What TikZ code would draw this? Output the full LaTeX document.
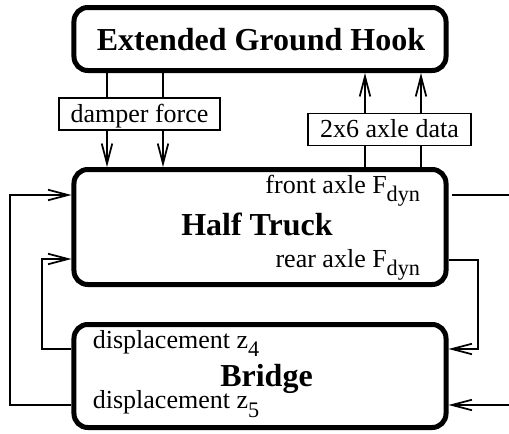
\documentclass[tikz,border=0pt]{standalone}
\usepackage{fontspec}
\setmainfont{Liberation Serif}
\usetikzlibrary{positioning}
\usetikzlibrary{arrows.meta}
\newcommand{\lowsub}[1]{\raisebox{-3.4pt}{\fontsize{8.9}{10}\selectfont #1}}

\begin{document}
\begin{tikzpicture}[x=0.4pt,y=-0.4pt,>={Straight Barb[length=8pt,width=4.2pt]},every node/.style={inner sep=0pt},on grid]
	
	\tikzstyle{block}=[rectangle,rounded corners=5.5pt,line width=2pt,draw=black,minimum width=148.8pt]
	\tikzstyle{title}=[font=\fontsize{12.8}{15}\selectfont\bfseries]
	\tikzstyle{plain}=[font=\fontsize{10.4}{12}\selectfont]
	\tikzstyle{tag}=[rectangle,draw=black,line width=0.7pt,fill=white,font=\fontsize{10.4}{12}\selectfont,text height=9.6pt,text depth=3.2pt]
	\tikzset{every path/.style={line width=0.7pt}}
	
		\useasboundingbox (0,0) rectangle (509,434);
		\node [block,minimum height=25.2pt] (hook) at (260,39) {};
		\node [block,minimum height=46pt] (truck) [below=75.2pt of hook] {};
		\node [block,minimum height=41.2pt] (bridge) [below=59.6pt of truck] {};
		\node [title,anchor=base] (hooktxt) at (261,50) {Extended Ground Hook};
		\node [title,anchor=base] (trucktxt) at (257,235) {Half Truck};
		\node [title,anchor=base] (bridgetxt) at (266.5,387) {Bridge};
		\node [plain,anchor=base east] (front) at (421,193) {front axle F\lowsub{dyn}};
		\node [plain,anchor=base east] (rear) at (421,267) {rear axle F\lowsub{dyn}};
		\node [plain,anchor=base west] (zfour) at (92,348) {displacement z\lowsub{4}};
		\node [plain,anchor=base west] (zfive) at (92,409) {displacement z\lowsub{5}};
		% links between hook and truck
		\foreach \x in {107,163} \draw[->] (hook.south -| \x,0) -- (truck.north -| \x,0);
		\foreach \x in {365,421} \draw[->] (truck.north -| \x,0) -- (hook.south -| \x,0);
		\node [tag,minimum width=64.4pt,anchor=base] (damper) at (139.5,122) {damper force};
		\node [tag,minimum width=65.2pt,anchor=base] (axle) at (389.5,137.5) {2x6 axle data};
		% outputs and feedback
		\coordinate (frontout) at (509,195);
		\coordinate (zin) at (509,405);
		\draw[shorten <=1.5pt] (truck.east |- frontout) -- (frontout);
		\draw[->] (truck.east |- 0,260) -| (478,349) -- (bridge.east |- 0,349);
		\draw[->] (zin) -- (bridge.east |- zin);
		\draw[->] (bridge.west |- 0,349) -| (42,259) -- (truck.west |- 0,259);
		\draw[->] (bridge.west |- 0,405) -| (10,195) -- (truck.west |- 0,195);
	
\end{tikzpicture}
\end{document}
